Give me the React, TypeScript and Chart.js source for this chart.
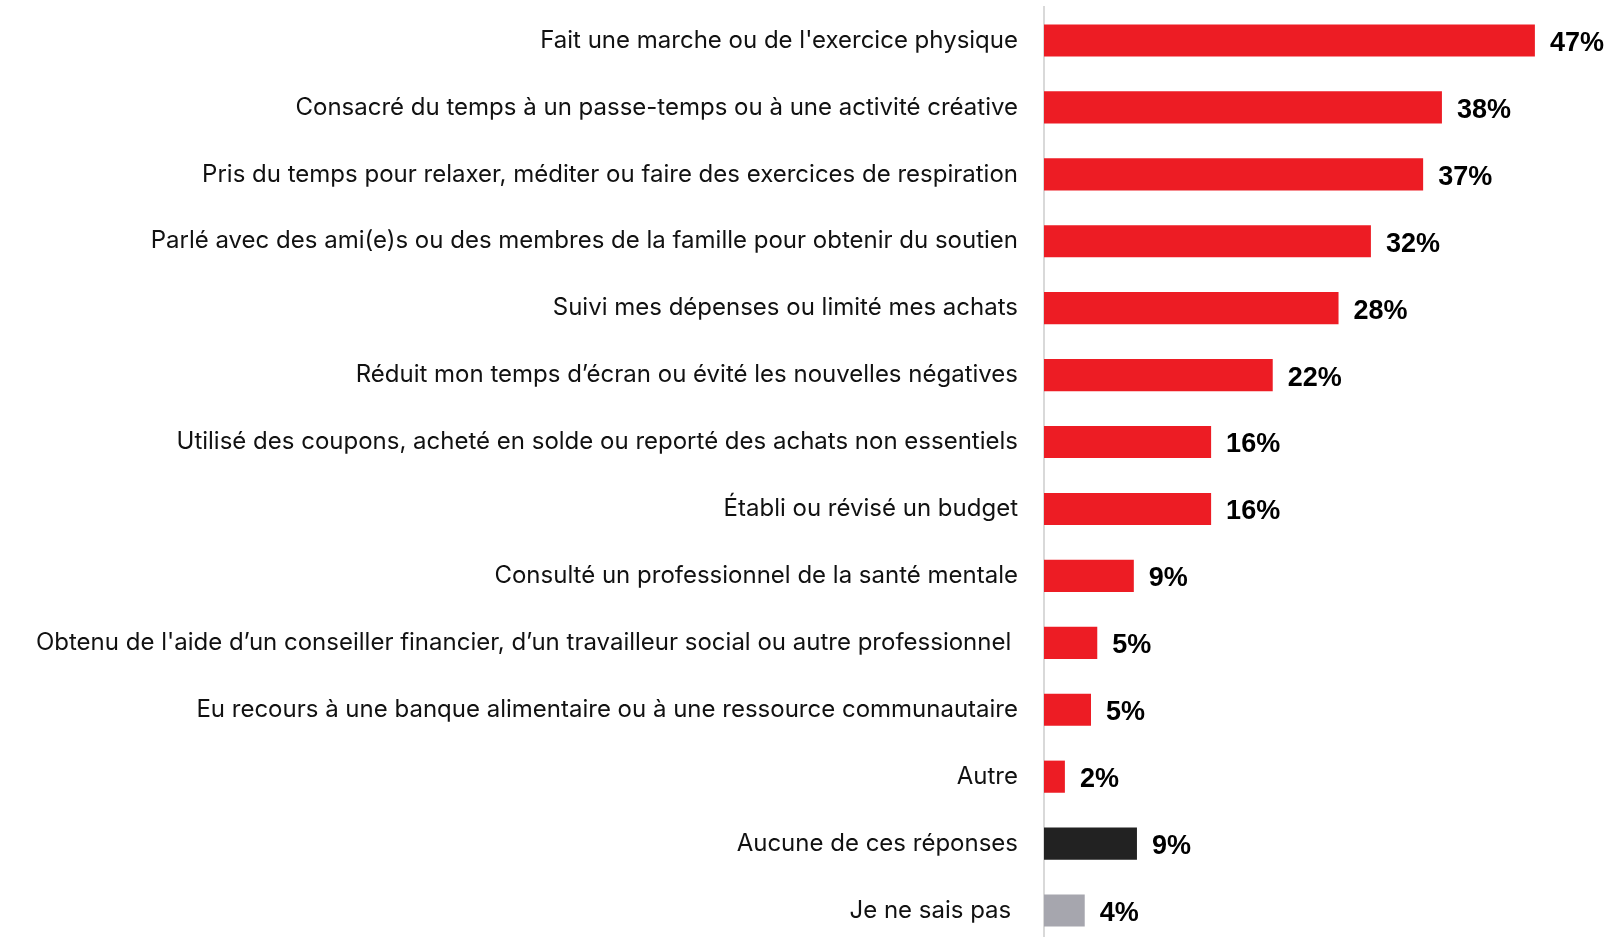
import React, { useEffect, useRef } from "react";
import { Chart, registerables } from "chart.js";

Chart.register(...registerables);

const categories = [
  "Fait une marche ou de l'exercice physique",
  "Consacré du temps à un passe-temps ou à une activité créative",
  "Pris du temps pour relaxer, méditer ou faire des exercices de respiration",
  "Parlé avec des ami(e)s ou des membres de la famille pour obtenir du soutien",
  "Suivi mes dépenses ou limité mes achats",
  "Réduit mon temps d’écran ou évité les nouvelles négatives",
  "Utilisé des coupons, acheté en solde ou reporté des achats non essentiels",
  "Établi ou révisé un budget",
  "Consulté un professionnel de la santé mentale",
  "Obtenu de l'aide d’un conseiller financier, d’un travailleur social ou autre professionnel ",
  "Eu recours à une banque alimentaire ou à une ressource communautaire",
  "Autre",
  "Aucune de ces réponses",
  "Je ne sais pas ",
];

const values = [47, 38.1, 36.3, 31.3, 28.2, 21.9, 16, 16, 8.6, 5.1, 4.5, 2, 8.9, 3.9];
const valueLabels = ["47%", "38%", "37%", "32%", "28%", "22%", "16%", "16%", "9%", "5%", "5%", "2%", "9%", "4%"];

const RED = "#ED1C24";
const BLACK = "#222222";
const GRAY = "#A6A6AE";
const barColors = categories.map((_, i) => (i === 12 ? BLACK : i === 13 ? GRAY : RED));

const valueLabelPlugin = {
  id: "valueLabels",
  afterDatasetsDraw(chart: any) {
    const ctx = chart.ctx;
    const meta = chart.getDatasetMeta(0);
    ctx.save();
    ctx.font = "bold 27px 'Liberation Sans', Arial, sans-serif";
    ctx.fillStyle = "#000000";
    ctx.textAlign = "left";
    ctx.textBaseline = "middle";
    meta.data.forEach((bar: any, i: number) => {
      ctx.fillText(valueLabels[i], bar.x + 15, bar.y + 3);
    });
    ctx.restore();
  },
};

export default function App() {
  const ref = useRef<HTMLCanvasElement | null>(null);
  useEffect(() => {
    if (!ref.current) return;
    const chart = new Chart(ref.current, {
      type: "bar",
      data: {
        labels: categories,
        datasets: [
          {
            data: values,
            backgroundColor: barColors,
            barPercentage: 0.48,
            categoryPercentage: 1,
          },
        ],
      },
      options: {
        indexAxis: "y",
        animation: false,
        responsive: false,
        maintainAspectRatio: false,
        devicePixelRatio: 1,
        layout: { padding: { top: 7, bottom: 0, left: 0, right: 0 } },
        plugins: { legend: { display: false }, tooltip: { enabled: false } },
        scales: {
          x: { display: false, min: 0, max: 54 },
          y: {
            grid: { display: false, drawTicks: false },
            border: { display: true, color: "#D9D9D9", width: 2 },
            ticks: {
              color: "#111111",
              font: { family: "Inter, 'Noto Sans', sans-serif", size: 24 },
              padding: 26,
              autoSkip: false,
            },
            afterFit: (scale: any) => {
              scale.width = 1044;
              scale.paddingTop = 0;
              scale.paddingBottom = 0;
            },
          },
        },
      },
      plugins: [valueLabelPlugin],
    });
    return () => chart.destroy();
  }, []);
  return (
    <div style={{ position: "absolute", left: 0, top: 0, width: 1608, height: 937, overflow: "hidden", background: "#fff" }}>
      <canvas ref={ref} width={1608} height={944} style={{ display: "block", width: 1608, height: 944 }} />
    </div>
  );
}
